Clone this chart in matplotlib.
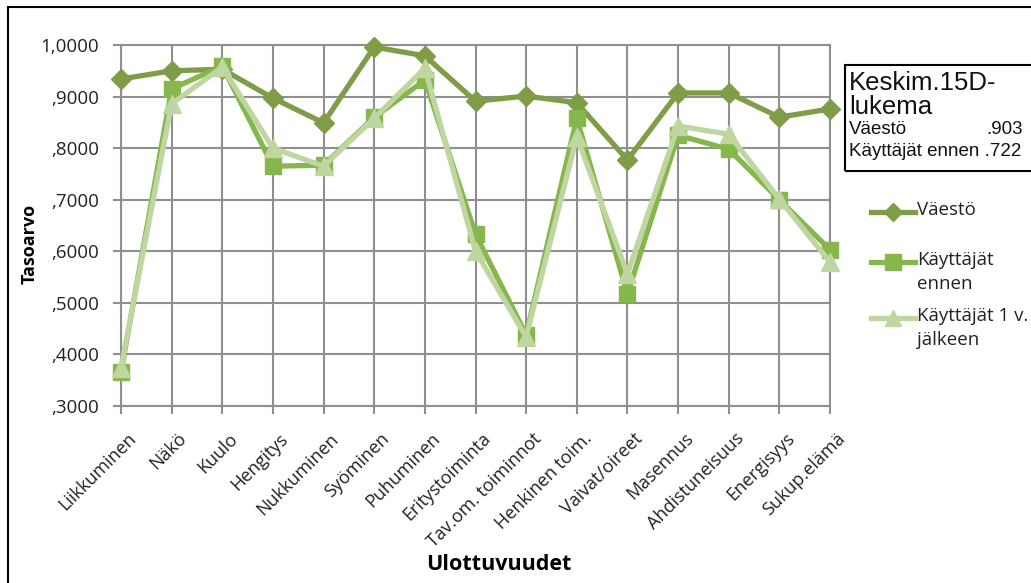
import numpy as np
import matplotlib
matplotlib.use('Agg')
import matplotlib.pyplot as plt
import matplotlib.transforms as mtransforms
from matplotlib.patches import Rectangle
from matplotlib.lines import Line2D
from matplotlib.ticker import FuncFormatter

# Data
categories = ['Liikkuminen', 'Näkö', 'Kuulo', 'Hengitys', 'Nukkuminen', 'Syöminen',
              'Puhuminen', 'Eritystoiminta', 'Tav.om. toiminnot', 'Henkinen toim.',
              'Vaivat/oireet', 'Masennus', 'Ahdistuneisuus', 'Energisyys', 'Sukup.elämä']
vaesto = [0.934, 0.950, 0.953, 0.897, 0.849, 0.996, 0.979, 0.891, 0.901, 0.888,
          0.777, 0.907, 0.907, 0.860, 0.876]
kayttajat_ennen = [0.366, 0.915, 0.959, 0.765, 0.767, 0.860, 0.932, 0.633, 0.438, 0.858,
                   0.517, 0.825, 0.798, 0.700, 0.603]
kayttajat_1v = [0.374, 0.886, 0.957, 0.800, 0.765, 0.858, 0.955, 0.600, 0.434, 0.822,
                0.556, 0.843, 0.827, 0.701, 0.579]
series_names = ['Väestö', 'Käyttäjät\nennen', 'Käyttäjät 1 v.\njälkeen']
box_lines = ['Keskim.15D-', 'lukema', 'Väestö', '.903', 'Käyttäjät ennen .722']

c_vaesto = '#7f9c47'
c_ennen = '#86b74c'
c_1v = '#c0d6a0'
grid_c = '#8f8f8f'

plt.rcParams['font.family'] = ['Open Sans', 'DejaVu Sans']

W, H = 1031, 583
fig = plt.figure(figsize=(W / 100, H / 100), dpi=100)
ax = fig.add_axes([121 / W, 1 - 406 / H, (830 - 121) / W, (406 - 45) / H])

x = np.arange(len(categories))
ax.plot(x, vaesto, color=c_vaesto, lw=3.8, marker='D', ms=10, zorder=3, clip_on=False)
ax.plot(x, kayttajat_ennen, color=c_ennen, lw=3.8, marker='s', ms=12, zorder=4, clip_on=False)
ax.plot(x, kayttajat_1v, color=c_1v, lw=3.8, marker='^', ms=13, zorder=5, clip_on=False)

ax.set_xlim(0, len(categories) - 1)
ax.set_ylim(0.3, 1.0)
ax.set_yticks(np.arange(0.3, 1.0001, 0.1))
ax.yaxis.set_major_formatter(FuncFormatter(
    lambda v, p: ('%.4f' % v).replace('.', ',') if v >= 0.999 else ('%.4f' % v)[1:].replace('.', ',')))
ax.set_xticks(x)
ax.set_xticklabels(categories, rotation=45, ha='right', rotation_mode='anchor')
ax.grid(True, color=grid_c, lw=1.5)
ax.set_axisbelow(True)
for s in ax.spines.values():
    s.set_color(grid_c)
    s.set_linewidth(1.5)
ax.tick_params(axis='both', colors=grid_c, labelcolor='#222222', length=6, width=1.5)
ax.tick_params(axis='x', labelsize=13, pad=11)
ax.tick_params(axis='y', labelsize=13.5, pad=10)
shift = mtransforms.ScaledTranslation(6 / 100, 0, fig.dpi_scale_trans)
for lab in ax.get_xticklabels():
    lab.set_transform(lab.get_transform() + shift)

fig.text(30 / W, 1 - 244 / H, 'Tasoarvo', rotation=90, ha='center', va='center',
         fontsize=13, fontweight='bold')
fig.text(499 / W, 1 - 564 / H, 'Ulottuvuudet', ha='center', va='center',
         fontsize=15.5, fontweight='bold')

# legend drawn by hand so handles sit on the first text line
leg_styles = [(c_vaesto, 'D', 9), (c_ennen, 's', 11), (c_1v, '^', 12)]
leg_y = [212, 262, 318]
for (col, mk, ms), yy, name in zip(leg_styles, leg_y, series_names):
    fig.add_artist(Line2D([871 / W, 915 / W], [1 - yy / H] * 2, color=col, lw=3.8,
                          transform=fig.transFigure))
    fig.add_artist(Line2D([893 / W], [1 - yy / H], color=col, marker=mk, ms=ms, lw=0,
                          transform=fig.transFigure))
    fig.text(917 / W, 1 - (yy - 11) / H, name, fontsize=13.5, va='top', ha='left',
             color='#222222', linespacing=1.45)

# text box
fig.patches.append(Rectangle((845 / W, 1 - 171 / H), 0.3, (171 - 65) / H,
                             transform=fig.transFigure, fill=False, ec='black', lw=1.5))
tb = dict(family=['Liberation Sans', 'DejaVu Sans'], color='#111111', va='center')
fig.text(849 / W, 1 - 83 / H, box_lines[0], fontsize=18.5, **tb)
fig.text(849 / W, 1 - 107 / H, box_lines[1], fontsize=18.5, **tb)
fig.text(849 / W, 1 - 130 / H, box_lines[2], fontsize=13.5, **tb)
fig.text(1023 / W, 1 - 130 / H, box_lines[3], fontsize=13.5, ha='right', **tb)
fig.text(849 / W, 1 - 151 / H, box_lines[4], fontsize=13.5, **tb)

# outer frame
fig.patches.append(Rectangle((8 / W, -0.1), 1.1, 1.1 - 7 / H,
                             transform=fig.transFigure, fill=False, ec='black', lw=1.5))

fig.savefig('out.png', dpi=100)
